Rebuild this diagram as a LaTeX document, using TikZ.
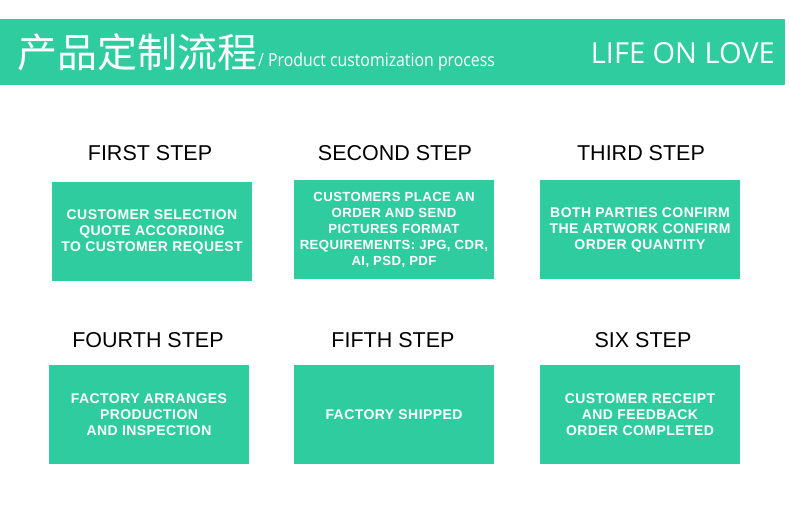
\documentclass[tikz,border=0pt]{standalone}
\usepackage{fontspec}
\setmainfont{Liberation Sans}
\newfontfamily\boxfont[LetterSpace=3]{Liberation Sans}
\newfontfamily\cjk{Noto Sans CJK SC}
\newfontfamily\thin{Open Sans}
\definecolor{mint}{HTML}{2FCCA0}
\begin{document}
\begin{tikzpicture}[x=1pt,y=-1pt,
  stepbox/.style={fill=mint,minimum width=200pt,minimum height=99pt,inner sep=0pt,
    text=white,align=center,font=\boxfont\fontsize{14}{16}\selectfont\bfseries},
  steptitle/.style={font=\fontsize{21.5}{24}\selectfont,text=black}]
\useasboundingbox (0,0) rectangle (790,513);
\fill[white] (0,0) rectangle (790,513);
\fill[mint] (0,19) rectangle (785,85);
\node[anchor=base west,inner sep=0pt,text=white,font=\cjk\fontsize{40}{40}\selectfont] (cn) at (17,68) {产品定制流程};
\node[anchor=base west,inner sep=0pt,text=white,font=\thin\fontsize{18}{18}\selectfont] (en) at (258,67) {\scalebox{0.88}[1]{/ Product customization process}};
\node[anchor=base east,inner sep=0pt,text=white,font=\thin\fontsize{29}{30}\selectfont] (life) at (775,64) {LIFE ON LOVE};

\node[steptitle] (t1) at (150,153) {FIRST STEP};
\node[steptitle] (t2) at (395,153) {SECOND STEP};
\node[steptitle] (t3) at (641,153) {THIRD STEP};
\node[steptitle] (t4) at (148,340) {FOURTH STEP};
\node[steptitle] (t5) at (393,340) {FIFTH STEP};
\node[steptitle] (t6) at (643,340) {SIX STEP};

\node[stepbox] (b1) at (152,231.5) {CUSTOMER SELECTION\\QUOTE ACCORDING\\TO CUSTOMER REQUEST};
\node[stepbox,font=\boxfont\fontsize{13.2}{16}\selectfont\bfseries] (b2) at (394,229.5) {CUSTOMERS PLACE AN\\ORDER AND SEND\\PICTURES FORMAT\\REQUIREMENTS: JPG, CDR,\\AI, PSD, PDF};
\node[stepbox] (b3) at (640,229.5) {BOTH PARTIES CONFIRM\\THE ARTWORK CONFIRM\\ORDER QUANTITY};
\node[stepbox] (b4) at (149,414.5) {FACTORY ARRANGES\\PRODUCTION\\AND INSPECTION};
\node[stepbox] (b5) at (394,414.5) {FACTORY SHIPPED};
\node[stepbox] (b6) at (640,414.5) {CUSTOMER RECEIPT\\AND FEEDBACK\\ORDER COMPLETED};
\end{tikzpicture}
\end{document}
